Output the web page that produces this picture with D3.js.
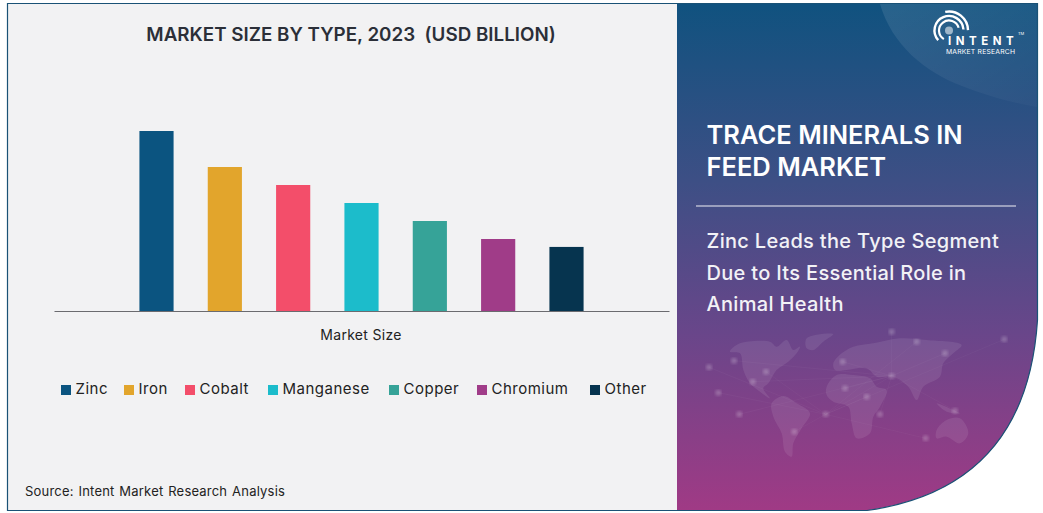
<!DOCTYPE html>
<html>
<head>
<meta charset="utf-8">
<script src="https://cdn.jsdelivr.net/npm/d3@7"></script>
<style>
  html, body { margin: 0; padding: 0; background: #fff; }
  svg { display: block; }
  text { font-family: "Inter", "Noto Sans", sans-serif; white-space: pre; }
</style>
</head>
<body>
<div id="chartarea"></div>
<script>
const categories = ['Zinc', 'Iron', 'Cobalt', 'Manganese', 'Copper', 'Chromium', 'Other'];
const marketSize = [5, 4, 3.5, 3, 2.5, 2, 1.78];
const colors = ['#0b5480', '#e2a52c', '#f34e6a', '#1cbccb', '#36a398', '#a03c88', '#06344f'];
const legendOffsets = [61, 124, 185, 268, 389, 477, 590];
const headingLines = ['TRACE MINERALS IN', 'FEED MARKET'];
const subLines = ['Zinc Leads the Type Segment', 'Due to Its Essential Role in', 'Animal Health'];

const width = 1043, height = 513;
const curve = 'C1031,420 985,494 867,510.5';
const svg = d3.select('#chartarea').append('svg')
    .attr('width', width)
    .attr('height', height);

const defs = svg.append('defs');
const grad = defs.append('linearGradient')
    .attr('id', 'panel').attr('x1', 0).attr('y1', 0).attr('x2', 0).attr('y2', 1);
grad.append('stop').attr('offset', '0%').attr('stop-color', '#10527f');
grad.append('stop').attr('offset', '35%').attr('stop-color', '#3d4f85');
grad.append('stop').attr('offset', '65%').attr('stop-color', '#69468a');
grad.append('stop').attr('offset', '100%').attr('stop-color', '#a03a85');
const glow = defs.append('linearGradient')
    .attr('id', 'glow').attr('x1', 0).attr('y1', 0).attr('x2', 1).attr('y2', 1);
glow.append('stop').attr('offset', '0%').attr('stop-color', '#fff').attr('stop-opacity', 0.1);
glow.append('stop').attr('offset', '100%').attr('stop-color', '#fff').attr('stop-opacity', 0.02);
defs.append('clipPath').attr('id', 'panelClip').append('path')
    .attr('d', `M677,4 H1037.5 V320 ${curve} H677 Z`);
defs.append('filter').attr('id', 'soft')
    .append('feGaussianBlur').attr('stdDeviation', 4);

// left panel
svg.append('rect')
    .attr('x', 7.5).attr('y', 3.5)
    .attr('width', 670).attr('height', 507)
    .attr('fill', '#f2f2f3');

// right panel
svg.append('path')
    .attr('d', `M677,3.5 H1037.5 V320 ${curve} H677 Z`)
    .attr('fill', 'url(#panel)');
svg.append('path')
    .attr('d', 'M880,4 C892,45 925,72 962,86 C985,95 1012,103 1037,107 V4 Z')
    .attr('fill', 'url(#glow)');
svg.append('path')
    .attr('d', `M867,510.5 H7.5 V3.5 H1037.5 V320 ${curve}`)
    .attr('fill', 'none').attr('stroke', '#1a5276').attr('stroke-width', 1.2);

// world map and network, faint
const land = [
  [[210,95],[240,70],[330,65],[350,80],[380,60],[400,90],[420,80],[410,100],[385,125],[350,150],[325,190],[310,205],[330,235],[300,215],[270,190],[250,150],[240,100]],
  [[440,55],[520,42],[490,65],[460,90],[440,85]],
  [[335,250],[370,228],[410,250],[450,280],[425,325],[400,370],[395,410],[375,395],[365,340],[340,290]],
  [[500,200],[530,165],[580,165],[630,175],[650,200],[680,210],[660,260],[640,290],[630,340],[590,355],[575,310],[565,260],[520,245],[500,225]],
  [[520,130],[545,100],[580,80],[640,70],[720,55],[800,60],[905,75],[880,100],[850,130],[840,170],[790,200],[770,240],[745,200],[700,170],[650,170],[620,145],[560,150],[525,150]],
  [[830,250],[880,270],[900,280],[860,275]],
  [[830,330],[860,300],[900,295],[925,340],[900,370],[860,350],[830,355]]
];
const nodes = [[147,142],[222,122],[175,218],[238,283],[318,155],[278,185],[497,283],[548,125],[695,168],[660,283],[403,335],[885,272],[797,355],[695,35],[1033,58],[855,100],[770,65],[555,205],[620,230]];
const mapG = svg.append('g')
    .attr('clip-path', 'url(#panelClip)')
    .append('g')
    .attr('transform', 'translate(660, 320) scale(0.3333)');
const landLine = d3.line().curve(d3.curveCatmullRomClosed.alpha(0.5));
mapG.selectAll('.land').data(land).enter().append('path')
    .attr('class', 'land')
    .attr('d', d => landLine(d))
    .attr('fill', '#fff').attr('opacity', 0.085);
mapG.selectAll('.link').data(nodes).enter().append('line')
    .attr('class', 'link')
    .attr('x1', d => d[0]).attr('y1', d => d[1])
    .attr('x2', (d, i) => i % 2 ? 695 : 497).attr('y2', (d, i) => i % 2 ? 168 : 283)
    .attr('stroke', '#fff').attr('stroke-width', 1.5).attr('opacity', 0.06);
mapG.selectAll('.node').data(nodes).enter().append('circle')
    .attr('class', 'node')
    .attr('cx', d => d[0]).attr('cy', d => d[1])
    .attr('r', 9)
    .attr('filter', 'url(#soft)')
    .attr('fill', '#fff').attr('opacity', 0.22);

// chart
const margin = { left: 54, right: 669, top: 131, bottom: 311 };
const x = d3.scaleBand()
    .domain(categories)
    .range([margin.left, margin.right])
    .paddingInner(0.5)
    .paddingOuter(1.25);
const y = d3.scaleLinear()
    .domain([0, 5])
    .range([margin.bottom, margin.top]);
const color = d3.scaleOrdinal().domain(categories).range(colors);

svg.selectAll('.bar')
    .data(categories)
    .enter().append('rect')
    .attr('class', 'bar')
    .attr('x', d => x(d))
    .attr('y', (d, i) => y(marketSize[i]))
    .attr('width', x.bandwidth())
    .attr('height', (d, i) => y(0) - y(marketSize[i]))
    .attr('fill', d => color(d));

const xAxis = d3.axisBottom(x).tickValues([]).tickSize(0);
const axisG = svg.append('g')
    .attr('transform', `translate(0, ${margin.bottom})`)
    .call(xAxis);
axisG.select('.domain').attr('stroke', '#6b6b6f').attr('stroke-width', 1);

svg.append('text')
    .attr('x', 361).attr('y', 340)
    .attr('text-anchor', 'middle')
    .attr('font-size', 14).attr('letter-spacing', 0.3).attr('fill', '#222')
    .text('Market Size');

// title
svg.append('text')
    .attr('x', 351).attr('y', 40.5)
    .attr('text-anchor', 'middle')
    .attr('font-size', 18.8).attr('font-weight', 600).attr('fill', '#2b2f38')
    .text('MARKET SIZE BY TYPE, 2023  (USD BILLION)');

// legend
const legend = svg.selectAll('.legend')
    .data(categories)
    .enter().append('g')
    .attr('class', 'legend')
    .attr('transform', (d, i) => `translate(${legendOffsets[i]}, 385)`);
legend.append('rect')
    .attr('width', 10).attr('height', 10)
    .attr('fill', d => color(d));
legend.append('text')
    .attr('x', 14.5).attr('y', 9)
    .attr('font-size', 15).attr('letter-spacing', 0.5).attr('fill', '#222')
    .text(d => d);

svg.append('text')
    .attr('x', 25).attr('y', 496)
    .attr('font-size', 13).attr('letter-spacing', 0.2).attr('word-spacing', 1).attr('fill', '#222')
    .text('Source: Intent Market Research Analysis');

// right panel text
svg.selectAll('.heading')
    .data(headingLines)
    .enter().append('text')
    .attr('class', 'heading')
    .attr('x', 706.5)
    .attr('y', (d, i) => 144 + i * 32)
    .attr('font-size', 25.5).attr('font-weight', 600).attr('fill', '#fff')
    .text(d => d);

svg.append('line')
    .attr('x1', 696).attr('x2', 1016)
    .attr('y1', 206).attr('y2', 206)
    .attr('stroke', '#f0f0f5').attr('stroke-width', 1);

svg.selectAll('.sub')
    .data(subLines)
    .enter().append('text')
    .attr('class', 'sub')
    .attr('x', 706.5)
    .attr('y', (d, i) => 248 + i * 31.5)
    .attr('font-size', 20).attr('font-weight', 500).attr('letter-spacing', 0.32).attr('fill', '#f2f2f6')
    .text(d => d);

// logo
const logoArcs = [
  { r: 19, start: -0.2, end: 1.55, w: 2.4 },
  { r: 14.5, start: -2.3, end: 1.5, w: 2.4 },
  { r: 10, start: -2.6, end: 1.3, w: 2.2 }
];
const logo = svg.append('g').attr('transform', 'translate(949, 30.5)');
logo.selectAll('path').data(logoArcs).enter().append('path')
    .attr('d', d => d3.arc()({ innerRadius: d.r, outerRadius: d.r, startAngle: d.start, endAngle: d.end }))
    .attr('fill', 'none').attr('stroke', '#fff').attr('stroke-width', d => d.w);
logo.append('circle').attr('r', 4).attr('fill', '#fff').attr('opacity', 0.55);
svg.append('text')
    .attr('x', 948).attr('y', 44.5)
    .attr('font-size', 11.5).attr('font-weight', 700).attr('letter-spacing', 4.5).attr('fill', '#fff')
    .text('INTENT');
svg.append('text')
    .attr('x', 946).attr('y', 54)
    .attr('font-size', 6.8).attr('letter-spacing', 0.2).attr('fill', '#fff')
    .text('MARKET RESEARCH');
svg.append('text')
    .attr('x', 1018).attr('y', 35)
    .attr('font-size', 4).attr('fill', '#fff')
    .text('TM');
</script>
</body>
</html>
